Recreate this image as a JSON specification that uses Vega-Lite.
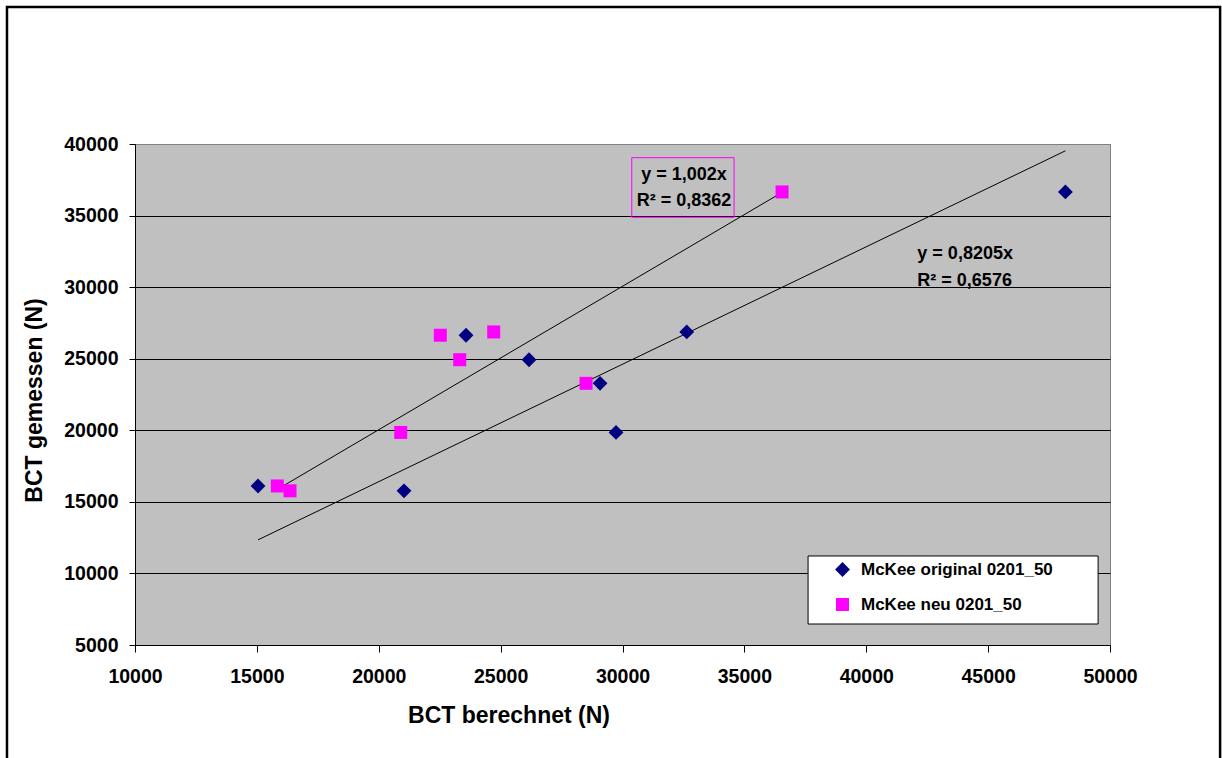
{
  "$schema": "https://vega.github.io/schema/vega-lite/v6.json",
  "width": 975,
  "height": 501,
  "autosize": {"type": "none"},
  "padding": {"left": 135, "top": 144, "right": 112, "bottom": 113},
  "background": "white",
  "config": {
    "view": {"fill": "#C0C0C0", "stroke": "#808080", "strokeWidth": 1},
    "font": "Liberation Sans"
  },
  "datasets": {
    "points": [
      {"series": "McKee original 0201_50", "x": 15047, "y": 16110},
      {"series": "McKee original 0201_50", "x": 21037, "y": 15770},
      {"series": "McKee original 0201_50", "x": 23581, "y": 26640},
      {"series": "McKee original 0201_50", "x": 26166, "y": 24930},
      {"series": "McKee original 0201_50", "x": 29079, "y": 23280},
      {"series": "McKee original 0201_50", "x": 29735, "y": 19850},
      {"series": "McKee original 0201_50", "x": 32635, "y": 26870},
      {"series": "McKee original 0201_50", "x": 48170, "y": 36650},
      {"series": "McKee neu 0201_50", "x": 15839, "y": 16110},
      {"series": "McKee neu 0201_50", "x": 16360, "y": 15770},
      {"series": "McKee neu 0201_50", "x": 20902, "y": 19850},
      {"series": "McKee neu 0201_50", "x": 22526, "y": 26640},
      {"series": "McKee neu 0201_50", "x": 23322, "y": 24930},
      {"series": "McKee neu 0201_50", "x": 24717, "y": 26870},
      {"series": "McKee neu 0201_50", "x": 28504, "y": 23280},
      {"series": "McKee neu 0201_50", "x": 36546, "y": 36650}
    ],
    "trend": [
      {"series": "McKee original 0201_50", "x": 15047, "y": 12346},
      {"series": "McKee original 0201_50", "x": 48170, "y": 39523},
      {"series": "McKee neu 0201_50", "x": 15839, "y": 15871},
      {"series": "McKee neu 0201_50", "x": 36546, "y": 36619}
    ],
    "boxes": [
      {"kind": "frame", "x": 4748, "x2": 54517, "y": 49571, "y2": -3732},
      {"kind": "eqbox", "x": 30380, "x2": 34577, "y": 39043, "y2": 34879},
      {"kind": "legendbox", "x": 37613, "x2": 49512, "y": 11218, "y2": 6467}
    ],
    "labels": [
      {"group": "neu", "text": "y = 1,002x", "x": 32524, "y": 37469},
      {"group": "neu", "text": "R² = 0,8362", "x": 32524, "y": 35676},
      {"group": "orig", "text": "y = 0,8205x", "x": 42096, "y": 31939},
      {"group": "orig", "text": "R² = 0,6576", "x": 42096, "y": 30077}
    ]
  },
  "encoding": {
    "x": {
      "field": "x",
      "type": "quantitative",
      "scale": {"domain": [10000, 50000], "nice": false, "zero": false},
      "axis": {
        "title": "BCT berechnet (N)",
        "values": [10000, 15000, 20000, 25000, 30000, 35000, 40000, 45000, 50000],
        "format": "d",
        "grid": false,
        "domainColor": "black",
        "tickColor": "black",
        "tickSize": 7,
        "labelFont": "Liberation Sans",
        "labelFontWeight": "bold",
        "labelFontSize": 19.5,
        "labelColor": "black",
        "labelPadding": 15,
        "labelFlush": false,
        "labelOverlap": false,
        "titleFont": "Liberation Sans",
        "titleFontWeight": "bold",
        "titleFontSize": 23,
        "titleColor": "black",
        "titleX": 373.5,
        "titleY": 77,
        "titleAlign": "center",
        "titleBaseline": "alphabetic"
      }
    },
    "y": {
      "field": "y",
      "type": "quantitative",
      "scale": {"domain": [5000, 40000], "nice": false, "zero": false},
      "axis": {
        "title": "BCT gemessen (N)",
        "values": [5000, 10000, 15000, 20000, 25000, 30000, 35000, 40000],
        "format": "d",
        "grid": true,
        "gridColor": {"condition": {"test": "datum.value == 40000", "value": "#808080"}, "value": "black"},
        "gridWidth": 1,
        "gridOpacity": 1,
        "domainColor": "black",
        "tickColor": "black",
        "tickSize": 6,
        "labelFont": "Liberation Sans",
        "labelFontWeight": "bold",
        "labelFontSize": 19.5,
        "labelColor": "black",
        "labelPadding": 11,
        "labelFlush": false,
        "labelOverlap": false,
        "titleFont": "Liberation Sans",
        "titleFontWeight": "bold",
        "titleFontSize": 23,
        "titleColor": "black",
        "titleX": -94,
        "titleY": 256,
        "titleAngle": 270,
        "titleAlign": "center",
        "titleBaseline": "alphabetic"
      }
    }
  },
  "layer": [
    {
      "data": {"name": "boxes"},
      "transform": [{"filter": "datum.kind == 'frame'"}],
      "mark": {"type": "rect", "fill": null, "fillOpacity": 0, "stroke": "black", "strokeWidth": 2.5, "clip": false},
      "encoding": {"x2": {"field": "x2"}, "y2": {"field": "y2"}}
    },
    {
      "data": {"name": "trend"},
      "mark": {"type": "line", "color": "black", "strokeWidth": 1},
      "encoding": {"detail": {"field": "series"}}
    },
    {
      "data": {"name": "boxes"},
      "transform": [{"filter": "datum.kind == 'eqbox'"}],
      "mark": {"type": "rect", "fill": null, "fillOpacity": 0, "stroke": "#FF00FF", "strokeWidth": 1},
      "encoding": {"x2": {"field": "x2"}, "y2": {"field": "y2"}}
    },
    {
      "data": {"name": "boxes"},
      "transform": [{"filter": "datum.kind == 'legendbox'"}],
      "mark": {"type": "rect", "fill": "white", "stroke": "black", "strokeWidth": 1},
      "encoding": {"x2": {"field": "x2"}, "y2": {"field": "y2"}}
    },
    {
      "data": {"name": "points"},
      "mark": {"type": "point", "filled": true, "opacity": 1, "strokeWidth": 0},
      "encoding": {
        "color": {
          "field": "series",
          "type": "nominal",
          "scale": {"domain": ["McKee original 0201_50", "McKee neu 0201_50"], "range": ["#000080", "#FF00FF"]},
          "legend": {
            "orient": "none",
            "legendX": 699,
            "legendY": 417,
            "title": null,
            "padding": 0,
            "labelFont": "Liberation Sans",
            "labelFontWeight": "bold",
            "labelFontSize": 17,
            "labelColor": "black",
            "labelOffset": 10,
            "labelLimit": 400,
            "rowPadding": 17,
            "symbolStrokeWidth": 0,
            "symbolOpacity": 1
          }
        },
        "shape": {
          "field": "series",
          "type": "nominal",
          "scale": {"domain": ["McKee original 0201_50", "McKee neu 0201_50"], "range": ["diamond", "square"]},
          "legend": {
            "orient": "none",
            "legendX": 699,
            "legendY": 417,
            "title": null,
            "padding": 0,
            "labelFont": "Liberation Sans",
            "labelFontWeight": "bold",
            "labelFontSize": 17,
            "labelColor": "black",
            "labelOffset": 10,
            "labelLimit": 400,
            "rowPadding": 17,
            "symbolStrokeWidth": 0,
            "symbolOpacity": 1
          }
        },
        "size": {
          "field": "series",
          "type": "nominal",
          "scale": {"domain": ["McKee original 0201_50", "McKee neu 0201_50"], "range": [220, 169]},
          "legend": {
            "orient": "none",
            "legendX": 699,
            "legendY": 417,
            "title": null,
            "padding": 0,
            "labelFont": "Liberation Sans",
            "labelFontWeight": "bold",
            "labelFontSize": 17,
            "labelColor": "black",
            "labelOffset": 10,
            "labelLimit": 400,
            "rowPadding": 17,
            "symbolStrokeWidth": 0,
            "symbolOpacity": 1
          }
        }
      }
    },
    {
      "data": {"name": "labels"},
      "transform": [{"filter": "datum.group == 'neu'"}],
      "mark": {"type": "text", "align": "center", "baseline": "alphabetic", "font": "Liberation Sans", "fontWeight": "bold", "fontSize": 18, "color": "black"},
      "encoding": {"text": {"field": "text"}}
    },
    {
      "data": {"name": "labels"},
      "transform": [{"filter": "datum.group == 'orig'"}],
      "mark": {"type": "text", "align": "left", "baseline": "alphabetic", "font": "Liberation Sans", "fontWeight": "bold", "fontSize": 18, "color": "black"},
      "encoding": {"text": {"field": "text"}}
    }
  ]
}
